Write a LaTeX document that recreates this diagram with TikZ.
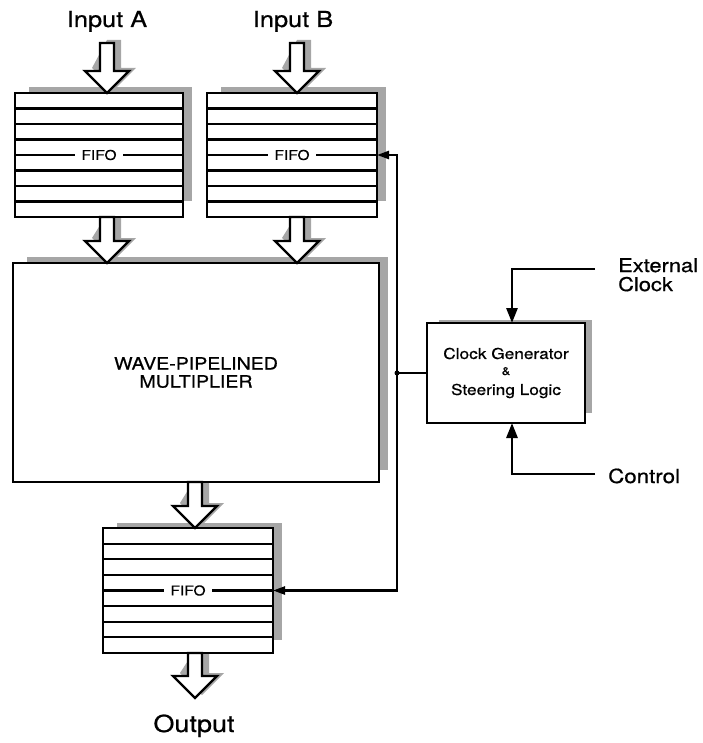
\documentclass[tikz,border=0pt]{standalone}
\usepackage{fontspec}
\setmainfont[FakeStretch=1.15,FakeBold=0.6]{TeX Gyre Heros}
\usetikzlibrary{arrows.meta,calc,backgrounds}
\newcommand{\fs}[1]{\fontsize{#1}{#1}\selectfont}
% block (hollow) arrow from point #1 down to tip #2, with a gray shadow
\newcommand{\blockarrow}[2]{%
  \begin{scope}[on background layer]
    \fill[shadowc] let \p1=(#1), \p2=(#2) in
      (\x2-0pt,\y1+3pt) -- (\x2+14pt,\y1+3pt) -- (\x2+14pt,\y2+25pt) -- (\x2+29pt,\y2+25pt)
      -- (\x2+7pt,\y2+3pt) -- (\x2-15pt,\y2+25pt) -- cycle;
  \end{scope}
  \draw[barrow] let \p1=(#1), \p2=(#2) in
    (\x2-7pt,\y1) -- (\x2+7pt,\y1) -- (\x2+7pt,\y2+22pt) -- (\x2+22pt,\y2+22pt)
    -- (\x2,\y2) -- (\x2-22pt,\y2+22pt) -- (\x2-7pt,\y2+22pt) -- cycle;
}
\begin{document}
\begin{tikzpicture}[x=1pt,y=-1pt,
  box/.style={draw, line width=2.8pt, fill=white, inner sep=0pt, outer sep=0pt},
  shadowc/.style={fill=black!35},
  barrow/.style={draw, fill=white, line width=2.4pt, line join=miter},
  row/.style={line width=2.2pt},
  fifolabel/.style={fill=white, inner xsep=6pt, inner ysep=1pt, font=\fs{13.5}},
  txt/.style={inner sep=0pt},
  sig/.style={line width=2.4pt},
  tipS/.tip={Triangle[length=12pt,width=8pt]},
  tipL/.tip={Triangle[length=15pt,width=11pt]}]
\useasboundingbox (0,0) rectangle (702,743);

% boxes
\node[box, minimum width=168pt, minimum height=124pt] (fa) at (99,155) {};
\node[box, minimum width=170pt, minimum height=124pt] (fb) at (292,155) {};
\node[box, minimum width=366pt, minimum height=219pt, align=center,
      font=\fontsize{17}{18}\selectfont] (mul) at (196,372.5) {WAVE-PIPELINED\\MULTIPLIER};
\node[box, minimum width=170pt, minimum height=125pt] (fo) at (188,590.5) {};
\node[box, minimum width=158pt, minimum height=100pt, align=center,
      font=\fontsize{15}{17}\selectfont] (clk) at (506,373)
      {Clock Generator\\[-1pt]{\fontsize{11}{11}\selectfont\&}\\[3pt]Steering Logic};

% shadows
\begin{scope}[on background layer]
  \fill[shadowc] ($(fa.north west)+(14,-6)$) rectangle ($(fa.south east)+(9,-16)$);
  \fill[shadowc] ($(fb.north west)+(14,-6)$) rectangle ($(fb.south east)+(9,-16)$);
  \fill[shadowc] ($(mul.north west)+(14,-6)$) rectangle ($(mul.south east)+(9,-12)$);
  \fill[shadowc] ($(fo.north west)+(14,-5)$) rectangle ($(fo.south east)+(9,-13)$);
  \fill[shadowc] ($(clk.north west)+(12,-3)$) rectangle ($(clk.south east)+(7,-10)$);
\end{scope}

% FIFO rows
\foreach \n in {fa,fb,fo} {
  \foreach \k in {1,...,7} {
    \draw[row] ($(\n.north west)!\k/8!(\n.south west)$) -- ($(\n.north east)!\k/8!(\n.south east)$);
  }
  \node[fifolabel] (\n-lbl) at (\n.center) {FIFO};
}

% texts
\node[txt, font=\fs{22}, anchor=base] (inA) at (107,27) {Input A};
\node[txt, font=\fs{22}, anchor=base] (inB) at (293,27) {Input B};
\node[txt, font=\fs{23.5}, anchor=base] (out) at (194,732) {Output};
\node[txt, font=\fontsize{19}{19}\selectfont, anchor=north west, align=left] (ext) at (618,258) {External\\Clock};
\node[txt, font=\fs{19.4}, anchor=base west] (ctl) at (608,483) {Control};

% block arrows
\coordinate (aA) at (107,43);
\coordinate (aB) at (297,43);
\coordinate (aO) at (195,698);
\blockarrow{aA}{aA |- fa.north}
\blockarrow{aB}{aB |- fb.north}
\blockarrow{aA |- fa.south}{aA |- mul.north}
\blockarrow{aB |- fb.south}{aB |- mul.north}
\blockarrow{aO |- mul.south}{aO |- fo.north}
\blockarrow{aO |- fo.south}{aO}

% clock distribution
\coordinate (busT) at (397,155);
\coordinate (busB) at (397,590.5);
\draw[sig, tipS-tipS] (fo.east) -- (busB) -- (busT) -- (fb.east);
\draw[sig] (clk.west) -- (clk.west -| busT);
\fill (clk.west -| busT) circle (2.5pt);

\coordinate (extS) at (595,269);
\coordinate (ctlS) at (595,474);
\draw[sig, line width=2.8pt, -tipL] (extS) -| ($(clk.north)+(6,0)$);
\draw[sig, line width=2.8pt, -tipL] (ctlS) -| ($(clk.south)+(6,0)$);
\end{tikzpicture}
\end{document}
